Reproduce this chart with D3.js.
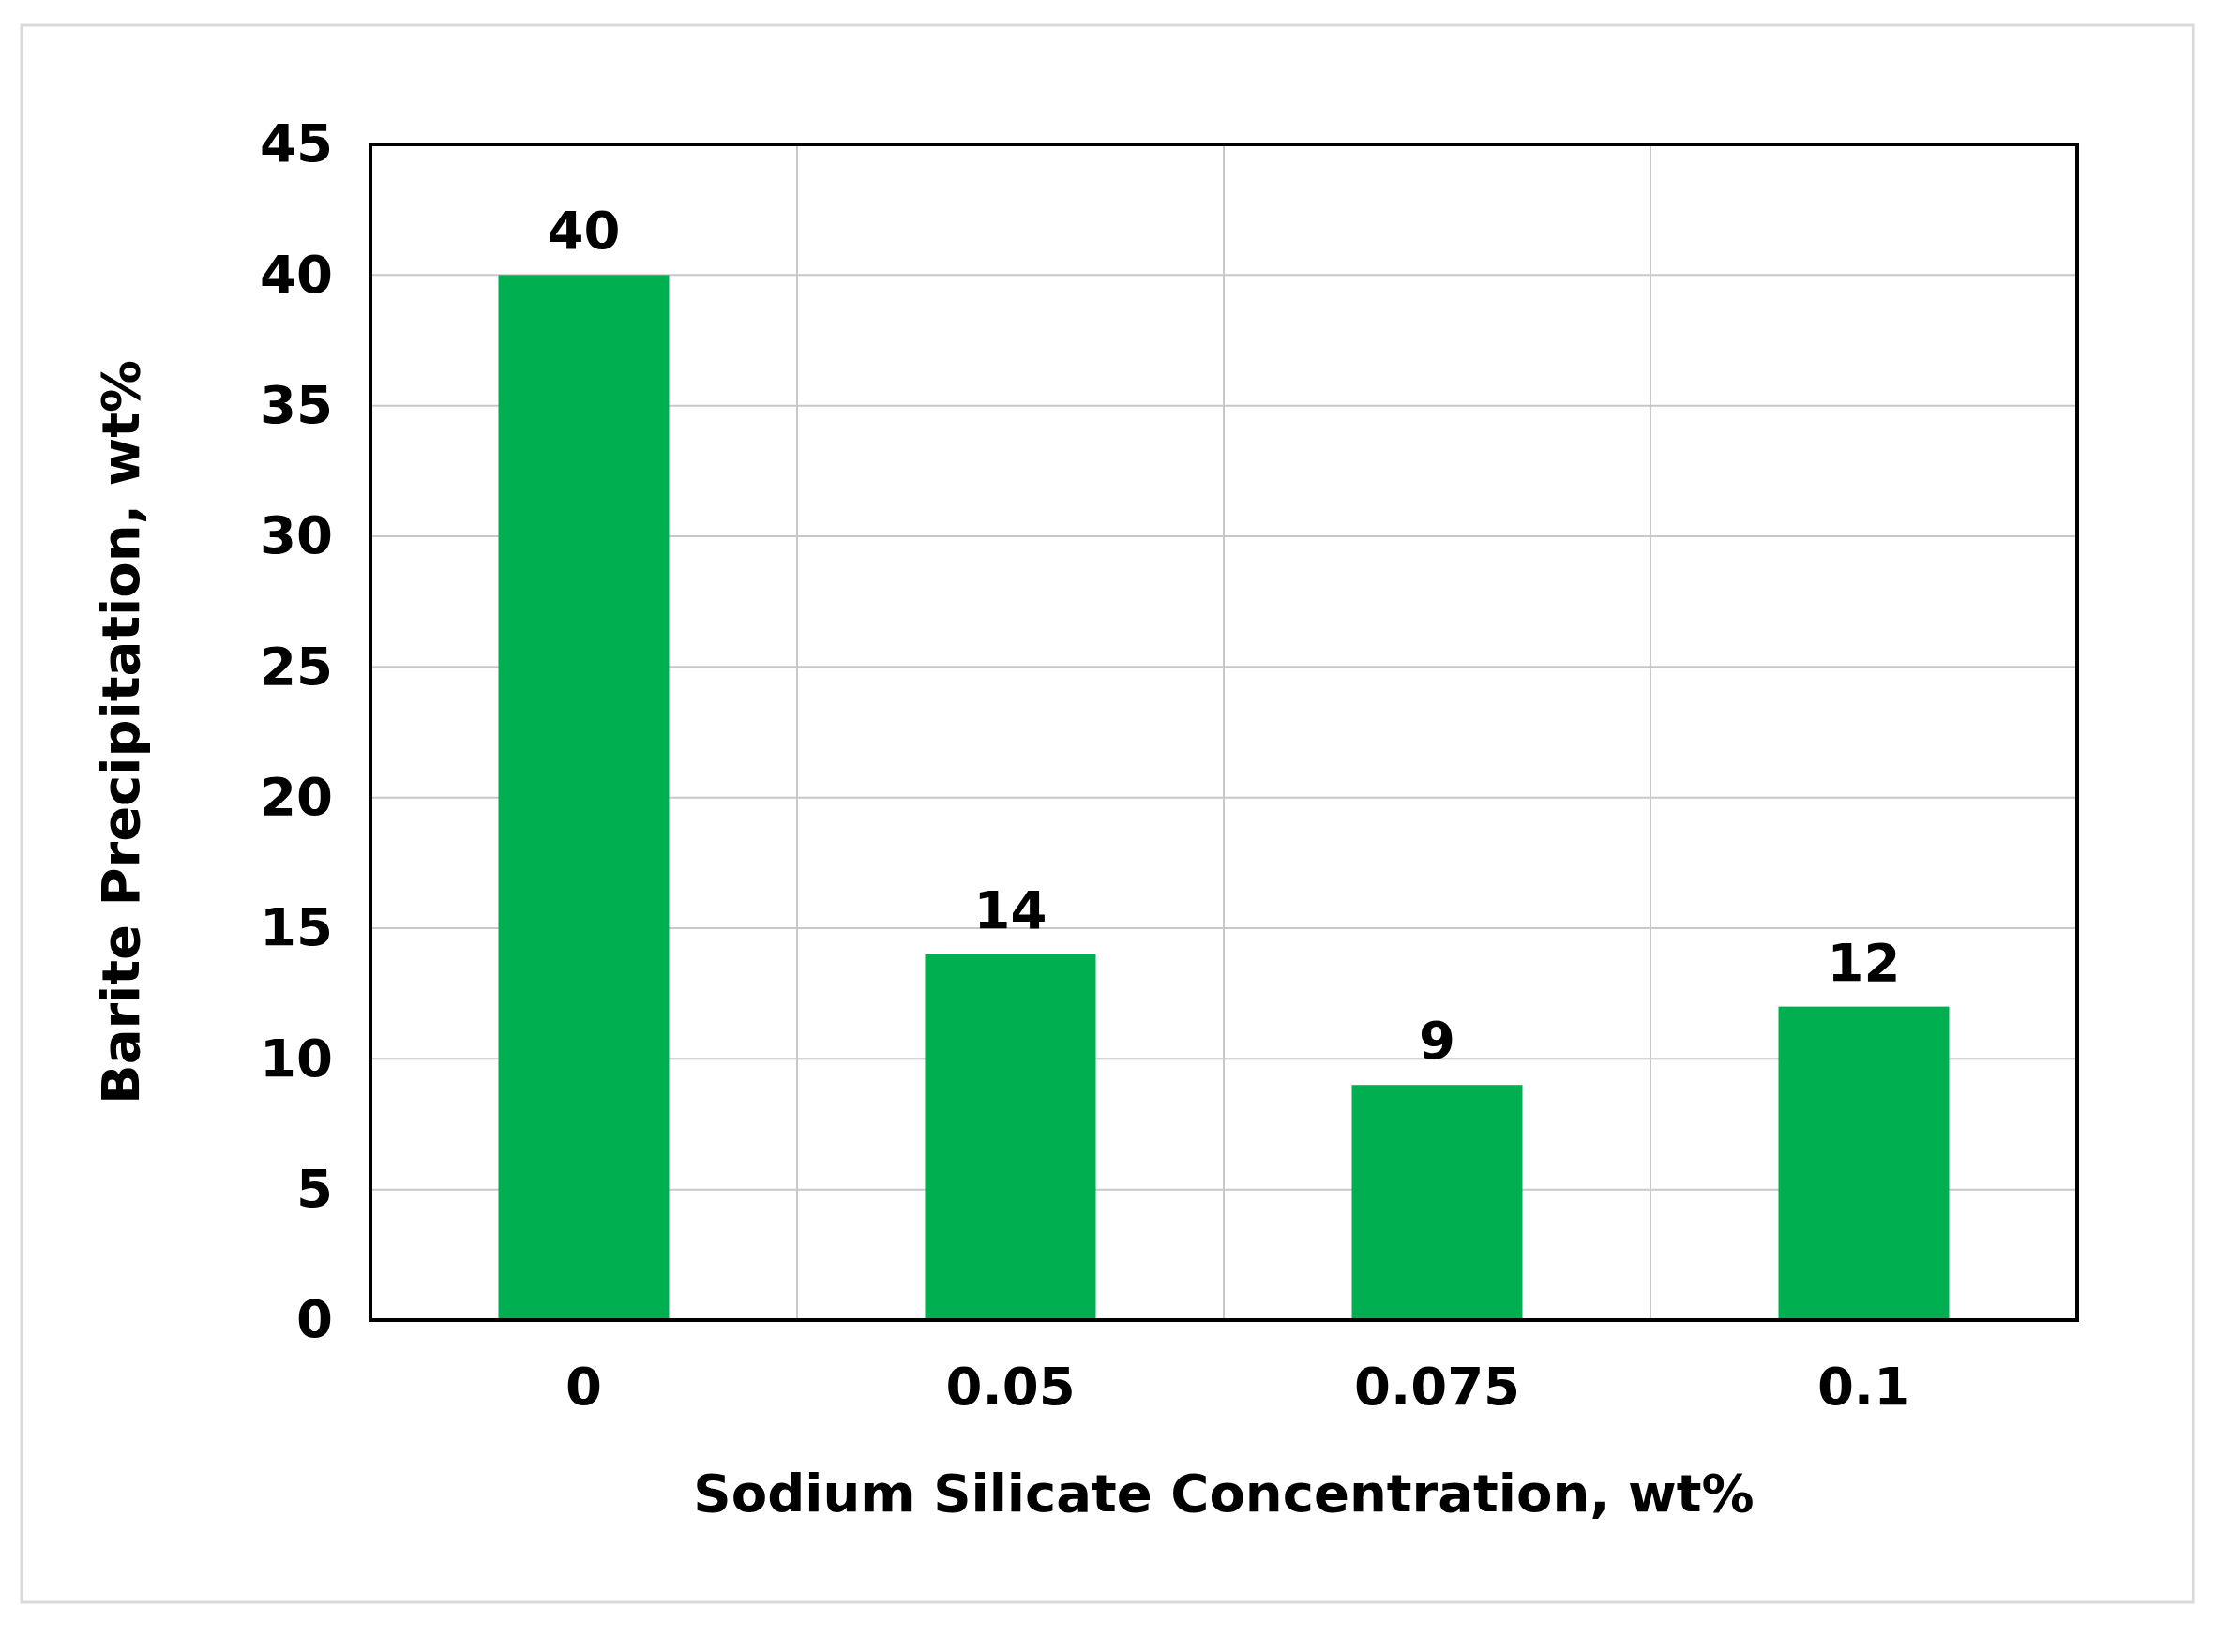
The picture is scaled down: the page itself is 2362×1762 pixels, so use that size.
<!DOCTYPE html><html><head><meta charset="utf-8">
<script src="https://d3js.org/d3.v7.min.js"></script>
<style>body{margin:0;background:#fff}svg{display:block}</style></head><body>
<script>
const categories=["0","0.05","0.075","0.1"];
const values=[40,14,9,12];
const yTicks=[0,5,10,15,20,25,30,35,40,45];
const W=2362,H=1762;
const m={l:395,r:2215,t:154,b:1408};
const svg=d3.select("body").append("svg").attr("width",W).attr("height",H);
svg.append("rect").attr("x",23).attr("y",27).attr("width",2316).attr("height",1682).attr("fill","#fff").attr("stroke","#d9d9d9").attr("stroke-width",3);
const x=d3.scaleBand().domain(categories).range([m.l,m.r]);
const y=d3.scaleLinear().domain([0,45]).range([m.b,m.t]);
const font="'DejaVu Sans',Verdana,sans-serif";
// grid
svg.append("g").selectAll("line").data(yTicks).join("line")
 .attr("x1",m.l).attr("x2",m.r).attr("y1",d=>y(d)).attr("y2",d=>y(d)).attr("stroke","#c8c8c8").attr("stroke-width",2);
svg.append("g").selectAll("line").data(categories.slice(1)).join("line")
 .attr("x1",d=>x(d)).attr("x2",d=>x(d)).attr("y1",m.t).attr("y2",m.b).attr("stroke","#c8c8c8").attr("stroke-width",2);
// bars
const bw=x.bandwidth()*0.4;
svg.append("g").selectAll("rect").data(values).join("rect")
 .attr("x",(d,i)=>x(categories[i])+x.bandwidth()/2-bw/2).attr("width",bw)
 .attr("y",d=>y(d)).attr("height",d=>y(0)-y(d)).attr("fill","#00B050");
svg.append("g").selectAll("text").data(values).join("text")
 .attr("x",(d,i)=>x(categories[i])+x.bandwidth()/2).attr("y",d=>y(d)-28)
 .attr("text-anchor","middle").attr("font-family",font).attr("font-weight","bold").attr("font-size",56).text(d=>d);
// frame
svg.append("rect").attr("x",m.l).attr("y",m.t).attr("width",m.r-m.l).attr("height",m.b-m.t).attr("fill","none").attr("stroke","#000").attr("stroke-width",4);
// axes
const ya=svg.append("g").attr("transform",`translate(${m.l},0)`).call(d3.axisLeft(y).tickValues(yTicks).tickSize(0).tickPadding(40));
ya.select(".domain").remove();
ya.selectAll("text").attr("font-family",font).attr("font-weight","bold").attr("font-size",56).attr("fill","#000");
const xa=svg.append("g").attr("transform",`translate(0,${m.b})`).call(d3.axisBottom(x).tickSize(0).tickPadding(50));
xa.select(".domain").remove();
xa.selectAll("text").attr("font-family",font).attr("font-weight","bold").attr("font-size",56).attr("fill","#000");
svg.append("text").attr("x",(m.l+m.r)/2).attr("y",1612).attr("text-anchor","middle")
 .attr("font-family",font).attr("font-weight","bold").attr("font-size",56).text("Sodium Silicate Concentration, wt%");
svg.append("text").attr("transform",`translate(148,${(m.t+m.b)/2}) rotate(-90)`).attr("text-anchor","middle")
 .attr("font-family",font).attr("font-weight","bold").attr("font-size",56).text("Barite Precipitation, wt%");
</script></body></html>
